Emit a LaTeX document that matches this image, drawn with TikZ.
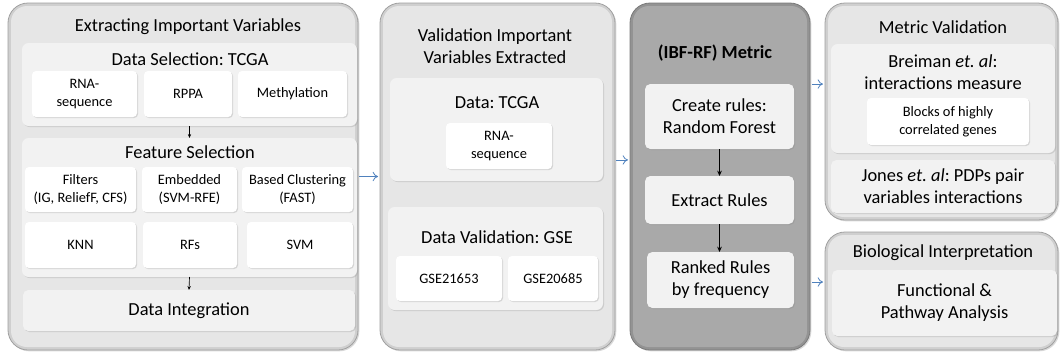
\documentclass[tikz,border=0pt]{standalone}
\usepackage{fontspec}
\setmainfont{Carlito}
\usetikzlibrary{shadows,arrows.meta}
\definecolor{rimL}{HTML}{CFCFCF}
\definecolor{rimLd}{HTML}{A0A0A0}
\definecolor{panL}{HTML}{E6E6E6}
\definecolor{rimD}{HTML}{939393}
\definecolor{rimDd}{HTML}{7A7A7A}
\definecolor{panD}{HTML}{A9A9A9}
\definecolor{grp}{HTML}{F2F2F2}
\definecolor{arrblue}{HTML}{4F81BD}
\frenchspacing
\newcommand{\bigtxt}{\fontsize{13.8}{16.5}\selectfont}
\newcommand{\smltxt}{\fontsize{10.8}{13.5}\selectfont}
% \bx{name}{style}{x1}{y1}{x2}{y2}{text}
\newcommand{\bx}[7]{%
  \pgfmathsetmacro\bxcx{(#3+#5)/2}\pgfmathsetmacro\bxcy{(#4+#6)/2}%
  \pgfmathsetmacro\bxw{(#5-#3)*0.75}\pgfmathsetmacro\bxh{(#6-#4)*0.75}%
  \node[#2, minimum width=\bxw pt, minimum height=\bxh pt] (#1) at (\bxcx,\bxcy) {#7};}
\tikzset{
  every node/.style={inner sep=0pt, outer sep=0pt},
  panelout/.style={fill=rimL, draw=rimLd, line width=0.6pt, rounded corners=15pt,
    drop shadow={shadow xshift=1pt,shadow yshift=-1pt,opacity=0.3}},
  panelin/.style={fill=panL, rounded corners=12pt},
  dpanelout/.style={fill=rimD, draw=rimDd, line width=0.6pt, rounded corners=15pt,
    drop shadow={shadow xshift=1pt,shadow yshift=-1pt,opacity=0.3}},
  dpanelin/.style={fill=panD, rounded corners=12pt},
  grpbox/.style={fill=grp, rounded corners=5pt,
    drop shadow={shadow xshift=0.8pt,shadow yshift=-0.8pt,opacity=0.25}},
  wbox/.style={fill=white, rounded corners=3pt, align=center, font=\smltxt,
    drop shadow={shadow xshift=0.8pt,shadow yshift=-0.8pt,opacity=0.25}},
  gbox/.style={fill=grp, rounded corners=4pt, align=center, font=\bigtxt,
    drop shadow={shadow xshift=0.8pt,shadow yshift=-0.8pt,opacity=0.25}},
  ttl/.style={align=center, font=\bigtxt},
  karr/.style={-{Stealth[length=3pt,width=2.5pt]}, line width=0.5pt, black},
  karrb/.style={-{Stealth[length=4pt,width=3.5pt]}, line width=0.7pt, black},
  barr/.style={-{To[length=4pt,width=7pt]}, line width=0.6pt, arrblue},
}
\begin{document}
\begin{tikzpicture}[x=0.75pt,y=-0.75pt]
\useasboundingbox (0,0) rectangle (1060,354);
% ---------- Panel 1
\bx{p1}{panelout}{8}{3}{358}{350}{}
\bx{p1i}{panelin}{11}{6}{355}{347}{}
\node[ttl] (t1) at (188,27) {Extracting Important Variables};
\bx{ds}{grpbox}{22}{43}{357}{126}{}
\node[ttl] (tds) at (190,59) {Data Selection: TCGA};
\bx{rna1}{wbox}{32}{71}{137}{117}{RNA-\\sequence}
\bx{rppa}{wbox}{144}{71}{232}{117}{RPPA}
\bx{meth}{wbox}{238}{71}{347}{117}{Methylation}
\bx{fs}{grpbox}{22}{138}{357}{277}{}
\node[ttl] (tfs) at (190,152) {Feature Selection};
\bx{filt}{wbox}{25}{167}{136}{212}{Filters\\(IG, ReliefF, CFS)}
\bx{emb}{wbox}{142}{167}{237}{212}{Embedded\\(SVM-RFE)}
\bx{clus}{wbox}{242}{167}{353}{212}{Based Clustering\\(FAST)}
\bx{knn}{wbox}{25}{222}{136}{268}{KNN}
\bx{rfs}{wbox}{143}{222}{237}{268}{RFs}
\bx{svm}{wbox}{247}{222}{353}{268}{SVM}
\bx{di}{gbox}{23}{290}{355}{331}{Data Integration}
\draw[karr] (ds.south) -- (fs.north);
\draw[karr] (fs.south) -- (di.north);
% ---------- Panel 2
\bx{p2}{panelout}{380}{3}{615}{350}{}
\bx{p2i}{panelin}{383}{6}{612}{347}{}
\node[ttl] (t2) at (495,46) {Validation Important\\Variables Extracted};
\bx{tc}{grpbox}{390}{78}{603}{181}{}
\node[ttl] (ttc) at (497,103) {Data: TCGA};
\bx{rna2}{wbox}{446}{123}{552}{169}{RNA-\\sequence}
\bx{gs}{grpbox}{388}{207}{603}{310}{}
\node[ttl] (tgs) at (497,237) {Data Validation: GSE};
\bx{g1}{wbox}{396}{256}{502}{301}{GSE21653}
\bx{g2}{wbox}{508}{256}{598}{301}{GSE20685}
% ---------- Panel 3
\bx{p3}{dpanelout}{630}{3}{810}{350}{}
\bx{p3i}{dpanelin}{633}{6}{807}{347}{}
\node[ttl, font=\bigtxt\bfseries] (t3) at (715,53) {(IBF-RF) Metric};
\bx{cr}{gbox}{645}{84}{794}{149}{Create rules:\\Random Forest}
\bx{er}{gbox}{645}{176}{794}{224}{Extract Rules}
\bx{rr}{gbox}{647}{252}{794}{308}{Ranked Rules\\by frequency}
\draw[karrb] (cr.south) -- (er.north);
\draw[karrb] (er.south) -- (er.south |- rr.north);
% ---------- Panel 4
\bx{p4}{panelout}{825}{3}{1058}{220}{}
\bx{p4i}{panelin}{828}{6}{1055}{217}{}
\node[ttl] (t4) at (943,27) {Metric Validation};
\bx{br}{grpbox}{831}{44}{1055}{153}{}
\node[ttl] (tbr) at (943,72) {Breiman \textit{et. al}:\\interactions measure};
\bx{blk}{wbox}{867}{98}{1029}{145}{Blocks of highly\\correlated genes}
\bx{jo}{gbox}{831}{160}{1055}{213}{Jones \textit{et. al}: PDPs pair\\variables interactions}
% ---------- Panel 5
\bx{p5}{panelout}{825}{232}{1058}{350}{}
\bx{p5i}{panelin}{828}{235}{1055}{347}{}
\node[ttl] (t5) at (943,253) {Biological Interpretation};
\bx{fu}{gbox}{832}{270}{1057}{336}{Functional \&\\Pathway Analysis}
% ---------- blue arrows
\draw[barr] ([xshift=1pt]p1.east) -- ([xshift=-1.5pt]p2.west);
\draw[barr] ([xshift=1pt,yshift=12.4pt]p2.east) -- ([xshift=-1.5pt,yshift=12.4pt]p3.west);
\coordinate (b4) at ([xshift=-1.5pt,yshift=20.6pt]p4.west);
\draw[barr] ([xshift=1.5pt]p3.east |- b4) -- (b4);
\coordinate (b5) at ([xshift=-1.5pt,yshift=6.75pt]p5.west);
\draw[barr] ([xshift=1.5pt]p3.east |- b5) -- (b5);
\end{tikzpicture}
\end{document}
